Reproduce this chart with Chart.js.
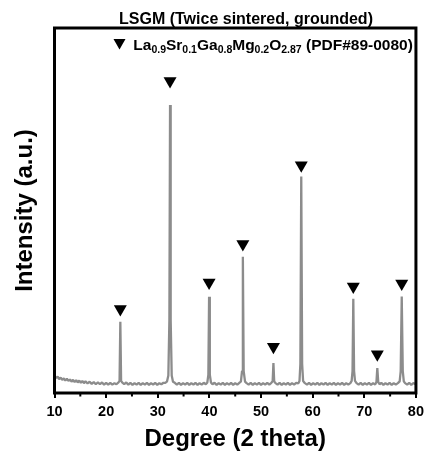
<!DOCTYPE html>
<html>
<head>
<meta charset="utf-8">
<script src="https://cdn.jsdelivr.net/npm/chart.js@4.4.1/dist/chart.umd.min.js"></script>
<style>
  html,body{margin:0;padding:0;background:#fff}
  #wrap{width:429px;height:457px;position:relative}
</style>
</head>
<body>
<div id="wrap"><canvas id="xrd"></canvas></div>
<script>
// ── data ──
var twoTheta=[10.0,10.3,10.6,10.9,11.2,11.5,11.8,12.1,12.4,12.7,13.0,13.3,13.6,13.9,14.2,14.5,14.8,15.1,15.4,15.7,16.0,16.4,16.8,17.2,17.6,18.0,18.4,18.8,19.2,19.6,20.0,20.4,20.8,21.2,21.6,22.0,22.4,22.6,22.75,22.9,23.1,23.5,23.9,24.3,24.7,25.1,25.5,25.9,26.3,26.7,27.1,27.5,27.9,28.3,28.7,29.1,29.5,29.9,30.3,30.7,31.1,31.5,31.8,32.05,32.25,32.38,32.5,32.7,32.95,33.3,33.7,34.1,34.5,34.9,35.3,35.7,36.1,36.5,36.9,37.3,37.7,38.1,38.5,38.9,39.3,39.6,39.8,39.94,40.08,40.3,40.6,41.0,41.4,41.8,42.2,42.6,43.0,43.4,43.8,44.2,44.6,45.0,45.4,45.8,46.1,46.32,46.48,46.64,46.9,47.2,47.6,48.0,48.4,48.8,49.2,49.6,50.0,50.4,50.8,51.2,51.6,52.0,52.25,52.4,52.55,52.8,53.2,53.6,54.0,54.4,54.8,55.2,55.6,56.0,56.4,56.8,57.2,57.45,57.62,57.79,57.96,58.15,58.5,58.9,59.3,59.7,60.1,60.5,60.9,61.3,61.7,62.1,62.5,62.9,63.3,63.7,64.1,64.5,64.9,65.3,65.7,66.1,66.5,66.9,67.3,67.55,67.72,67.87,68.02,68.2,68.5,68.9,69.3,69.7,70.1,70.5,70.9,71.3,71.7,72.1,72.35,72.52,72.7,72.95,73.3,73.7,74.1,74.5,74.9,75.3,75.7,76.1,76.5,76.85,77.05,77.25,77.45,77.65,77.9,78.3,78.7,79.1,79.5,80.0];
var intensity=[4.6,4.1,4.5,3.8,4.2,3.6,4.0,3.4,3.9,3.3,3.7,3.1,3.6,3.0,3.5,2.9,3.4,2.8,3.3,2.7,3.2,2.6,3.1,2.5,3.0,2.4,2.9,2.4,2.9,2.3,2.8,2.3,2.8,2.3,2.7,2.4,2.9,3.3,19.5,3.3,2.9,2.4,2.9,2.3,2.8,2.2,2.7,2.3,2.8,2.2,2.7,2.3,2.8,2.2,2.7,2.3,2.8,2.2,2.7,2.4,2.8,2.8,3.2,4.8,20,78.9,20,4.8,3.1,2.8,2.3,2.8,2.2,2.7,2.3,2.8,2.2,2.7,2.3,2.8,2.2,2.7,2.3,2.8,2.4,2.9,5,26.4,5,2.9,2.4,2.8,2.2,2.7,2.3,2.8,2.2,2.7,2.3,2.8,2.2,2.7,2.3,2.8,3.1,6,37.3,6,3.1,2.7,2.3,2.8,2.2,2.7,2.3,2.8,2.2,2.7,2.3,2.8,2.3,2.8,3.2,8.2,3.2,2.7,2.3,2.8,2.2,2.7,2.3,2.8,2.2,2.7,2.3,2.8,2.6,3.3,8,59.3,8,3.3,2.7,2.3,2.8,2.2,2.7,2.3,2.8,2.2,2.7,2.3,2.8,2.2,2.7,2.3,2.8,2.2,2.7,2.3,2.8,2.2,2.7,2.3,2.7,3.3,6,25.8,6,3.3,2.7,2.3,2.8,2.2,2.7,2.3,2.8,2.2,2.7,2.3,3.0,6.8,3.0,2.4,2.8,2.2,2.7,2.3,2.8,2.2,2.7,2.3,2.7,3.2,6,26.4,6,3.2,2.7,2.3,2.8,2.2,2.7,2.4];

// PDF#89-0080 reflections marked with ▼
var peakPos=[22.75,32.38,39.94,46.48,52.4,57.79,67.87,72.52,77.25];
var markerY=[23.0,85.5,30.3,40.8,12.7,62.4,29.2,10.6,30.0];

var xTicks=[10,20,30,40,50,60,70,80];
var xMinor=[15,25,35,45,55,65,75];

var FONT='"Liberation Sans", Arial, Helvetica, sans-serif';

var pts=twoTheta.map(function(x,i){return{x:x,y:intensity[i]};});
var mks=peakPos.map(function(x,i){return{x:x,y:markerY[i]};});

/* ── frame, minor ticks, title, legend with subscripts ── */
var decor={
  id:'decor',
  afterDatasetsDraw:function(chart){
    var c=chart.ctx,a=chart.chartArea,xs=chart.scales.x;
    c.save();
    c.strokeStyle='#000';c.lineWidth=3;
    c.strokeRect(a.left,a.top,a.right-a.left,a.bottom-a.top);
    c.lineWidth=2;
    xMinor.forEach(function(v){
      var px=xs.getPixelForValue(v);
      c.beginPath();c.moveTo(px,a.bottom);c.lineTo(px,a.bottom+3.5);c.stroke();
    });
    c.restore();
  },
  afterDraw:function(chart){
    var c=chart.ctx;
    c.save();
    c.fillStyle='#000';
    c.textBaseline='alphabetic';
    c.textAlign='center';
    c.font='bold 16px '+FONT;
    c.fillText('LSGM (Twice sintered, grounded)',246,24);

    // legend glyph
    c.beginPath();c.moveTo(113.5,39);c.lineTo(125.5,39);c.lineTo(119.5,49.5);c.closePath();c.fill();

    var parts=[['La','0.9'],['Sr','0.1'],['Ga','0.8'],['Mg','0.2'],['O','2.87'],[' (PDF#89-0080)','']];
    var x=133.3,base=49.5;
    c.textAlign='left';
    parts.forEach(function(p){
      c.font='bold 15.5px '+FONT;
      c.fillText(p[0],x,base);x+=c.measureText(p[0]).width;
      if(p[1]){
        c.font='bold 10.5px '+FONT;
        c.fillText(p[1],x,base+3);x+=c.measureText(p[1]).width;
      }
    });
    c.restore();
  }
};

new Chart(document.getElementById('xrd'),{
  type:'scatter',
  data:{datasets:[
    {label:'LSGM',data:pts,showLine:true,borderColor:'#8c8c8c',borderWidth:2.3,borderJoinStyle:'bevel',pointRadius:0,tension:0,order:2},
    {label:'PDF#89-0080',data:mks,showLine:false,pointStyle:'triangle',rotation:180,pointRadius:7.5,pointHoverRadius:7.5,backgroundColor:'#000',borderWidth:0,order:1}
  ]},
  options:{
    responsive:true,maintainAspectRatio:false,animation:false,
    layout:{padding:{top:28,right:11,left:0,bottom:0}},
    plugins:{legend:{display:false},tooltip:{enabled:false},title:{display:false}},
    scales:{
      x:{type:'linear',min:10,max:80,
        afterBuildTicks:function(s){s.ticks=xTicks.map(function(v){return{value:v};});},
        afterFit:function(s){s.height=64;},
        ticks:{font:{family:FONT,size:14.5,weight:'bold'},color:'#000',padding:5,maxRotation:0},
        grid:{display:true,drawOnChartArea:false,drawTicks:true,tickLength:5,lineWidth:2,color:'#000'},
        border:{display:false},
        title:{display:true,text:'Degree (2 theta)',color:'#000',font:{family:FONT,size:24,weight:'bold'},padding:{top:0,bottom:3.5}}
      },
      y:{min:0,max:100,
        afterFit:function(s){s.width=54.5;},
        ticks:{display:false},
        grid:{display:false},
        border:{display:false},
        title:{display:true,text:'Intensity (a.u.)',color:'#000',font:{family:FONT,size:24,weight:'bold'},padding:{top:10.5,bottom:0}}
      }
    }
  },
  plugins:[decor]
});
</script>
</body>
</html>
